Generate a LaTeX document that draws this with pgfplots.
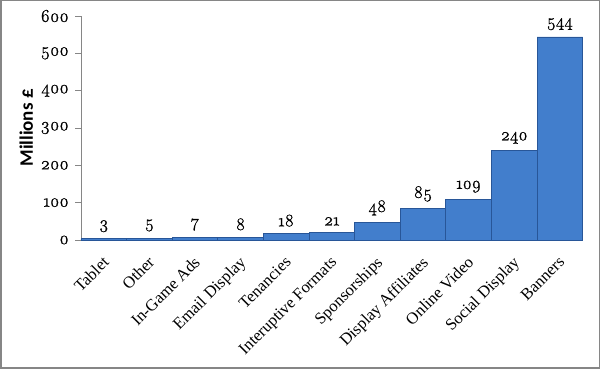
\documentclass[border=0pt]{standalone}
\usepackage{pgfplots}
\pgfplotsset{compat=1.18}
\usepackage{fontspec}
\setmainfont{Liberation Serif}
\newfontfamily\numfont[Numbers=OldStyle,FakeBold=1.2]{Latin Modern Roman}
\newfontfamily\labfont{Carlito}
\definecolor{barblue}{RGB}{66,126,204}
\definecolor{baredge}{RGB}{40,86,152}
\definecolor{axisgray}{RGB}{134,134,134}
\begin{document}
\begin{tikzpicture}[x=1pt,y=1pt]
\path[use as bounding box] (0,0) rectangle (600,369);
\draw[color=axisgray, line width=1.5pt] (0.75,0.75) rectangle (599.25,368.25);
\begin{axis}[
  at={(81pt,129pt)}, anchor=south west,
  scale only axis, width=501.6pt, height=224pt,
  xmin=-0.5, xmax=10.5, ymin=0, ymax=600,
  axis x line=bottom, axis y line=left,
  axis line style={-, color=axisgray, line width=0.8pt},
  ytick={0,100,...,600},
  xtick=data,
  xticklabels={Tablet,Other,In-Game Ads,Email Display,Tenancies,Interuptive Formats,Sponsorships,Display Affiliates,Online Video,Social Display,Banners},
  xtick style={draw=none},
  ytick style={color=axisgray, line width=0.8pt},
  major tick length=6pt,
  tick align=outside,
  yticklabel style={font=\fontsize{18}{19}\numfont, inner sep=2pt, xshift=-4pt},
  /pgf/number format/assume math mode=true,
  xticklabel style={font=\fontsize{16.5}{17}\selectfont, rotate=45, anchor=north east, inner sep=0pt, yshift=-5pt, xshift=-8pt},
  ylabel={Millions £},
  ylabel style={font=\fontsize{19}{20}\labfont\bfseries, yshift=2pt},
  nodes near coords,
  nodes near coords style={font=\fontsize{17.5}{18}\numfont, color=black, yshift=3pt},
  clip=false,
]
\addplot[ybar, bar width=45.6pt, fill=barblue, draw=baredge, line width=0.8pt] coordinates {
(0,3) (1,5) (2,7) (3,8) (4,18) (5,21) (6,48) (7,85) (8,109) (9,240) (10,544)
};
\end{axis}
\end{tikzpicture}
\end{document}
